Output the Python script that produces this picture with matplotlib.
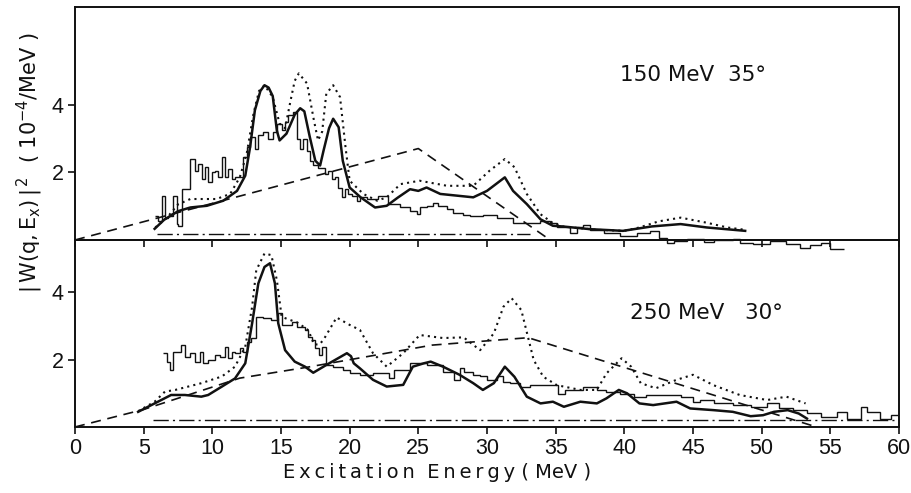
import numpy as np
import matplotlib
matplotlib.use('Agg')
import matplotlib.pyplot as plt

plt.rcParams['font.family'] = ['DejaVu Sans']
plt.rcParams['mathtext.default'] = 'regular'

# ---- 150 MeV, 35 deg ----
top_hist_edges = [5.83, 6.07, 6.31, 6.56, 6.8, 7.16, 7.4, 7.53, 7.77, 8.38,
                  8.74, 8.98, 9.23, 9.47, 9.71, 9.95, 10.2, 10.44, 10.68, 10.93,
                  11.17, 11.41, 11.65, 12.26, 12.5, 12.75, 13.11, 13.35, 13.72, 14.08,
                  14.45, 14.69, 15.05, 15.3, 15.54, 15.9, 16.15, 16.39, 16.63, 16.87,
                  17.12, 17.36, 17.72, 18.2, 18.45, 18.69, 18.93, 19.18, 19.42, 19.66,
                  19.9, 20.15, 20.51, 20.75, 21.24, 22.09, 22.82, 23.67, 24.4, 24.88,
                  25.12, 25.61, 26.1, 26.46, 27.07, 27.55, 28.28, 28.77, 29.74, 30.71,
                  31.92, 32.9, 33.87, 34.6, 35.1, 36.05, 36.54, 37.0, 37.5, 38.5,
                  39.7, 40.9, 41.9, 42.5, 43.1, 43.6, 44.55, 45.77, 46.5, 47.95,
                  48.4, 49.4, 50.6, 51.8, 52.8, 53.5, 54.3, 55.0, 56.0]
top_hist_vals = [0.71, 0.55, 1.31, 0.66, 0.70, 1.31, 0.47, 0.40, 1.50, 2.39,
                 2.05, 2.25, 1.80, 2.15, 1.70, 2.00, 2.05, 1.85, 2.44, 1.85,
                 2.10, 1.80, 1.85, 2.44, 2.74, 3.04, 2.69, 3.09, 3.19, 2.99,
                 3.19, 3.43, 3.24, 3.48, 3.68, 3.78, 2.99, 2.69, 2.99, 2.64,
                 2.34, 2.20, 2.12, 1.95, 2.05, 1.80, 1.85, 1.55, 1.26, 1.50,
                 1.36, 1.31, 1.16, 1.26, 1.22, 1.31, 1.06, 0.96, 0.86, 0.76,
                 0.96, 1.01, 1.08, 1.01, 0.91, 0.81, 0.74, 0.71, 0.74, 0.66,
                 0.51, 0.51, 0.56, 0.51, 0.37, 0.22, 0.37, 0.43, 0.29, 0.22,
                 0.12, 0.22, 0.27, 0.07, -0.08, -0.03, 0.02, -0.05, -0.01, 0.02,
                 -0.08, -0.13, -0.03, -0.13, -0.23, -0.15, -0.08, -0.28]

top_solid_e = [5.8, 6.5, 7.5, 8.4, 9.6, 10.8, 11.8, 12.4, 12.75, 13.1, 13.5, 13.8,
               14.1, 14.4, 14.7, 14.9, 15.4, 16.0, 16.4, 16.7, 17.1, 17.5, 17.85,
               18.1, 18.5, 18.8, 19.2, 19.5, 20.0, 20.8, 21.85, 22.7, 23.5, 24.4,
               25.0, 25.6, 26.6, 29.0, 30.0, 31.3, 31.9, 32.9, 33.9, 34.8, 35.5,
               37.5, 39.9, 42.0, 44.1, 46.0, 48.8]
top_solid_v = [0.33, 0.60, 0.85, 0.96, 1.01, 1.16, 1.45, 1.90, 2.74, 3.83, 4.40, 4.57,
               4.50, 4.25, 3.23, 2.94, 3.14, 3.70, 3.89, 3.80, 3.04, 2.34, 2.20,
               2.64, 3.30, 3.58, 3.33, 2.34, 1.55, 1.26, 0.96, 1.01, 1.25, 1.50,
               1.45, 1.55, 1.36, 1.26, 1.45, 1.85, 1.45, 1.06, 0.61, 0.42, 0.40,
               0.32, 0.27, 0.40, 0.47, 0.37, 0.27]

top_dot_e = [5.85, 6.7, 7.5, 8.4, 10.3, 11.3, 12.0, 12.5, 13.0, 13.4, 13.8, 14.4,
             14.9, 15.3, 15.7, 16.0, 16.3, 16.9, 17.4, 17.7, 18.0, 18.3, 18.8,
             19.3, 19.7, 20.0, 21.0, 22.0, 22.7, 23.7, 25.1, 27.1, 29.0, 30.2,
             31.3, 32.0, 32.9, 33.9, 34.8, 35.5, 38.0, 40.0, 41.1, 42.5, 44.1,
             46.0, 47.5, 48.8]
top_dot_v = [0.37, 0.66, 1.05, 1.21, 1.21, 1.36, 1.85, 2.54, 3.73, 4.40, 4.57, 4.22,
             3.44, 3.30, 4.12, 4.70, 4.92, 4.62, 3.53, 2.94, 3.20, 4.32, 4.57,
             4.22, 2.74, 1.75, 1.36, 1.16, 1.26, 1.65, 1.75, 1.60, 1.60, 2.05,
             2.39, 2.15, 1.36, 0.76, 0.50, 0.40, 0.30, 0.27, 0.37, 0.55, 0.66,
             0.51, 0.37, 0.30]

top_dash_e = [0.0, 25.0, 34.6]
top_dash_v = [0.0, 2.70, 0.0]
top_dashdot_e = [6.0, 33.1]
top_dashdot_v = [0.18, 0.18]

# ---- 250 MeV, 30 deg ----
bot_hist_edges = [6.43, 6.7, 6.95, 7.15, 7.75, 8.0, 8.35, 8.75, 9.1, 9.35,
                  9.7, 10.2, 10.55, 10.9, 11.15, 11.4, 11.65, 12.0, 12.25, 12.5,
                  12.85, 13.2, 13.7, 14.3, 14.8, 15.05, 15.8, 16.15, 16.75, 17.0,
                  17.25, 17.5, 17.75, 18.0, 18.3, 18.8, 19.5, 20.0, 20.75, 21.7,
                  22.9, 23.2, 24.4, 25.6, 26.8, 27.6, 28.0, 28.3, 29.0, 29.5,
                  30.0, 30.7, 31.2, 31.7, 32.4, 33.1, 33.9, 35.2, 35.7, 37.0,
                  38.0, 38.7, 39.7, 40.7, 41.6, 42.6, 44.1, 45.0, 45.5, 46.5,
                  47.9, 49.2, 50.4, 51.3, 52.3, 53.3, 54.3, 55.5, 56.2, 57.2,
                  57.7, 58.6, 59.4, 59.9]
bot_hist_vals = [2.19, 1.94, 1.70, 2.24, 2.43, 2.09, 2.19, 1.94, 2.24, 1.90,
                 1.99, 2.14, 2.09, 2.38, 2.04, 2.24, 2.19, 2.33, 2.24, 2.53,
                 2.63, 3.27, 3.22, 3.17, 3.37, 3.03, 3.13, 2.98, 2.87, 2.68,
                 2.58, 2.33, 2.14, 2.38, 1.84, 1.79, 1.70, 1.60, 1.55, 1.60,
                 1.45, 1.70, 1.90, 1.84, 1.64, 1.40, 1.74, 1.64, 1.55, 1.50,
                 1.40, 1.50, 1.34, 1.30, 1.20, 1.25, 1.25, 0.99, 1.10, 1.20,
                 1.10, 1.05, 0.99, 0.90, 0.95, 0.95, 0.90, 0.75, 0.80, 0.70,
                 0.65, 0.60, 0.70, 0.55, 0.50, 0.42, 0.30, 0.45, 0.25, 0.60,
                 0.45, 0.25, 0.35]

bot_solid_e = [4.6, 5.8, 7.0, 8.0, 9.2, 9.7, 10.7, 11.65, 12.4, 12.9, 13.35, 13.8,
               14.2, 14.56, 14.8, 15.3, 16.0, 16.75, 17.35, 18.3, 19.8, 20.1, 20.3,
               20.75, 21.7, 22.7, 23.9, 24.6, 25.4, 25.9, 26.8, 28.0, 29.0, 29.7,
               30.5, 31.3, 32.0, 32.9, 33.9, 34.8, 35.6, 36.8, 38.0, 38.7, 39.6,
               40.2, 41.1, 42.1, 43.8, 44.8, 46.5, 47.9, 49.2, 50.1, 50.9, 51.9,
               52.7, 53.3]
bot_solid_v = [0.45, 0.70, 0.95, 0.95, 0.90, 0.95, 1.20, 1.44, 1.89, 3.08, 4.26, 4.75,
               4.86, 4.26, 3.08, 2.28, 1.94, 1.79, 1.61, 1.84, 2.19, 2.10, 1.89,
               1.74, 1.40, 1.20, 1.25, 1.79, 1.89, 1.94, 1.79, 1.55, 1.30, 1.10,
               1.30, 1.79, 1.49, 0.90, 0.70, 0.75, 0.60, 0.75, 0.70, 0.85, 1.10,
               1.00, 0.70, 0.65, 0.75, 0.55, 0.50, 0.45, 0.32, 0.35, 0.45, 0.50,
               0.40, 0.25]

bot_dot_e = [4.6, 5.8, 6.55, 7.3, 9.2, 10.7, 11.65, 12.4, 12.9, 13.2, 13.8, 14.3,
             14.7, 15.05, 15.5, 16.2, 17.0, 17.4, 17.8, 18.1, 19.05, 20.0, 20.75,
             21.7, 22.7, 23.9, 25.1, 26.8, 28.3, 29.5, 30.5, 31.2, 31.8, 32.5,
             33.4, 34.1, 35.1, 36.8, 38.0, 38.7, 39.8, 40.5, 41.2, 42.3, 43.8,
             45.0, 46.5, 48.4, 50.4, 51.8, 53.2]
bot_dot_v = [0.47, 0.75, 1.05, 1.10, 1.30, 1.50, 1.79, 2.38, 3.57, 4.65, 5.15, 5.10,
             4.36, 3.27, 3.20, 3.10, 2.87, 2.45, 2.45, 2.59, 3.25, 3.03, 2.88,
             2.19, 1.79, 2.19, 2.73, 2.64, 2.66, 2.28, 2.78, 3.57, 3.82, 3.47,
             1.99, 1.49, 1.24, 1.10, 1.10, 1.59, 2.04, 1.79, 1.30, 1.15, 1.40,
             1.55, 1.24, 0.95, 0.80, 0.90, 0.70]

bot_dash_e = [0.0, 5.0, 12.0, 17.0, 26.0, 33.0, 54.0]
bot_dash_v = [0.0, 0.52, 1.45, 1.78, 2.43, 2.65, 0.0]
bot_dashdot_e = [5.7, 59.7]
bot_dashdot_v = [0.20, 0.20]

ink = '#111111'
dash = (0, (6, 4))
dashdot = (0, (11, 3, 1.5, 3))
tick_font = {'family': 'Liberation Sans', 'size': 15.5}

fig = plt.figure(figsize=(9.11, 4.93), dpi=100)
ax_top = fig.add_axes([0.0823, 0.5132, 0.9045, 0.4726])
ax_bot = fig.add_axes([0.0823, 0.1339, 0.9045, 0.3793], sharex=ax_top)
# upper panel on top so its histogram can dip below the zero line
ax_top.set_zorder(3)
ax_top.patch.set_visible(False)


def draw_panel(ax, edges, hist, se, sv, de, dv, ke, kv, ce, cv, clip):
    ax.stairs(hist, edges, color=ink, lw=1.0, baseline=None, clip_on=clip)
    ax.plot(se, sv, color=ink, lw=1.8)
    ax.plot(de, dv, color=ink, lw=1.5, linestyle=(0, (1, 2)))
    ax.plot(ke, kv, color=ink, lw=1.2, linestyle=dash)
    ax.plot(ce, cv, color=ink, lw=1.0, linestyle=dashdot)
    for s in ax.spines.values():
        s.set_linewidth(1.4)
        s.set_color(ink)
    ax.tick_params(direction='out', length=5, width=1.2, colors=ink, pad=3)
    ax.set_yticks([2, 4])
    for lab in ax.get_yticklabels():
        lab.set_fontproperties(tick_font)


draw_panel(ax_top, top_hist_edges, top_hist_vals, top_solid_e, top_solid_v,
           top_dot_e, top_dot_v, top_dash_e, top_dash_v,
           top_dashdot_e, top_dashdot_v, False)
draw_panel(ax_bot, bot_hist_edges, bot_hist_vals, bot_solid_e, bot_solid_v,
           bot_dot_e, bot_dot_v, bot_dash_e, bot_dash_v,
           bot_dashdot_e, bot_dashdot_v, True)

ax_top.set_xlim(0, 60)
ax_top.set_ylim(0, 6.88)
ax_bot.set_ylim(0, 5.55)
ax_bot.set_xticks(np.arange(0, 61, 5))
for lab in ax_bot.get_xticklabels():
    lab.set_fontproperties(tick_font)
ax_top.tick_params(axis='x', labelbottom=False)

ax_top.text(39.7, 4.87, u'150 MeV  35\u00b0', fontsize=15.5, va='center', color=ink)
ax_bot.text(40.4, 3.38, u'250 MeV   30\u00b0', fontsize=15.5, va='center', color=ink)

ts = u'\u2009'
fig.text(0.48, 0.042, ts.join('Excitation') + '  ' + ts.join('Energy') + ' ( MeV )',
         ha='center', va='center', fontsize=14, color=ink)
fig.text(0.033, 0.67, r'$|\,W(q,E_x)\,|^{\,2}$  ( $10^{-4}$/MeV )',
         rotation=90, ha='center', va='center', fontsize=15, color=ink)

fig.savefig('out.png', dpi=100)
